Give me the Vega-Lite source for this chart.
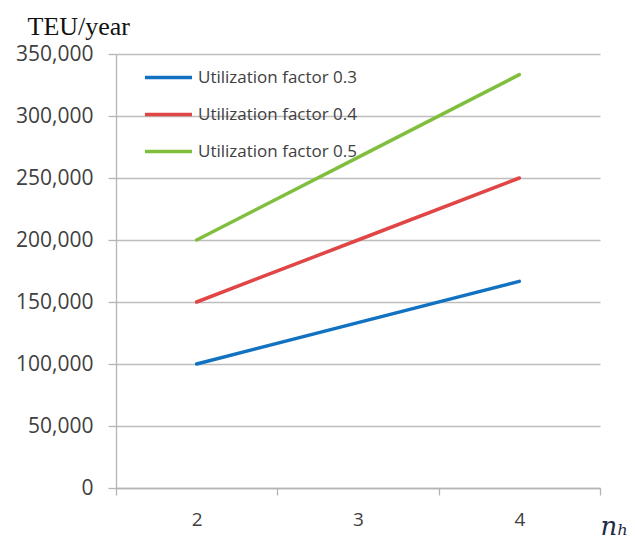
{
  "$schema": "https://vega.github.io/schema/vega-lite/v6.json",
  "width": 484,
  "height": 434,
  "autosize": {"type": "none"},
  "padding": {"left": 116, "top": 54, "right": 35, "bottom": 54},
  "background": "white",
  "config": {
    "view": {"stroke": null},
    "axis": {
      "labelFont": "Open Sans",
      "labelColor": "#404040",
      "domainColor": "#b4b4b4",
      "tickColor": "#b4b4b4",
      "gridColor": "#bdbdbd",
      "domainWidth": 1.3,
      "tickWidth": 1.3,
      "gridWidth": 1.3
    }
  },
  "data": {
    "values": [
      {"nh": 2, "series": "Utilization factor 0.3", "teu": 100000},
      {"nh": 3, "series": "Utilization factor 0.3", "teu": 133333},
      {"nh": 4, "series": "Utilization factor 0.3", "teu": 166667},
      {"nh": 2, "series": "Utilization factor 0.4", "teu": 150000},
      {"nh": 3, "series": "Utilization factor 0.4", "teu": 200000},
      {"nh": 4, "series": "Utilization factor 0.4", "teu": 250000},
      {"nh": 2, "series": "Utilization factor 0.5", "teu": 200000},
      {"nh": 3, "series": "Utilization factor 0.5", "teu": 266667},
      {"nh": 4, "series": "Utilization factor 0.5", "teu": 333333}
    ]
  },
  "mark": {"type": "line", "strokeWidth": 3.5, "strokeCap": "round"},
  "encoding": {
    "x": {
      "field": "nh",
      "type": "ordinal",
      "scale": {"type": "band", "paddingInner": 0, "paddingOuter": 0},
      "axis": {
        "labelAngle": 0,
        "labelFontSize": 19,
        "labelPadding": 15,
        "tickBand": "extent",
        "tickSize": 7,
        "grid": false,
        "title": "nₕ",
        "titleFont": "DejaVu Serif",
        "titleFontStyle": "italic",
        "titleFontWeight": "normal",
        "titleFontSize": 26,
        "titleColor": "#1f2a44",
        "titleAnchor": "start",
        "titleAlign": "left",
        "titleBaseline": "alphabetic",
        "titleX": 484,
        "titleY": 46
      }
    },
    "y": {
      "field": "teu",
      "type": "quantitative",
      "scale": {"domain": [0, 350000], "nice": false},
      "axis": {
        "values": [0, 50000, 100000, 150000, 200000, 250000, 300000, 350000],
        "format": ",d",
        "labelFontSize": 21,
        "labelPadding": 15,
        "tickSize": 8,
        "grid": true,
        "title": "TEU/year",
        "titleFont": "Liberation Serif",
        "titleFontWeight": "normal",
        "titleFontSize": 26,
        "titleColor": "#111111",
        "titleAngle": 0,
        "titleAlign": "left",
        "titleBaseline": "alphabetic",
        "titleX": -89,
        "titleY": -20
      }
    },
    "color": {
      "field": "series",
      "type": "nominal",
      "scale": {"range": ["#1272c2", "#e04646", "#80bf3e"]},
      "legend": {
        "title": null,
        "orient": "none",
        "legendX": 27,
        "legendY": -2,
        "symbolType": "stroke",
        "symbolSize": 2209,
        "symbolStrokeWidth": 3.5,
        "labelFont": "Open Sans",
        "labelFontSize": 17,
        "labelColor": "#404040",
        "labelOffset": 4,
        "rowPadding": 3
      }
    }
  }
}
